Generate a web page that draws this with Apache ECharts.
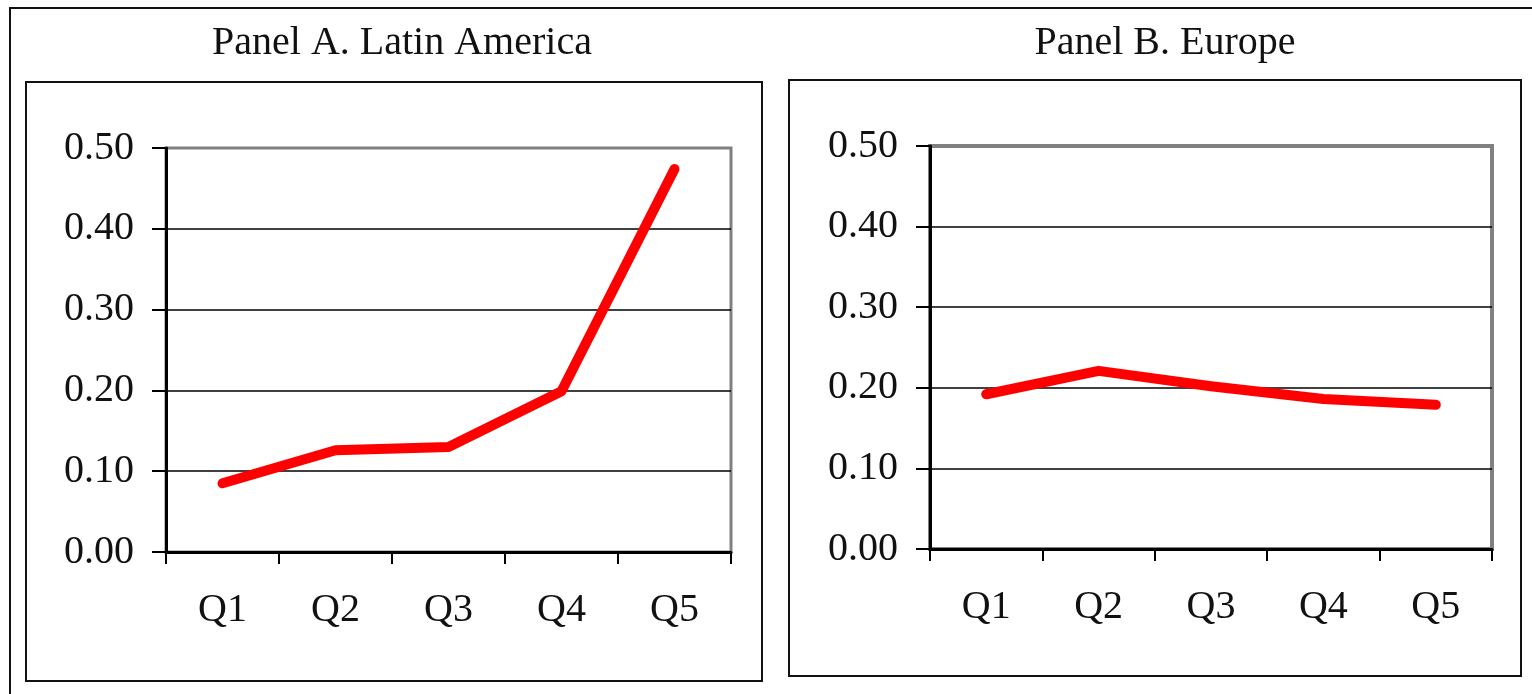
<!DOCTYPE html>
<html>
<head>
<meta charset="utf-8">
<script src="https://cdn.jsdelivr.net/npm/echarts@6/dist/echarts.min.js"></script>
<style>
html,body{margin:0;padding:0;background:#fff;}
#c{width:1532px;height:694px;}
</style>
</head>
<body>
<div id="c"></div>
<script>
const categories = ['Q1', 'Q2', 'Q3', 'Q4', 'Q5'];
const latinAmerica = [0.085, 0.126, 0.130, 0.199, 0.474];
const europe = [0.192, 0.221, 0.202, 0.186, 0.179];
const yTicks = [0.00, 0.10, 0.20, 0.30, 0.40, 0.50];
const panelTitles = ['Panel A. Latin America', 'Panel B. Europe'];

const FONT = '"Liberation Serif", "Times New Roman", serif';
const chart = echarts.init(document.getElementById('c'), null, {renderer: 'canvas'});

function xAxis(gi) {
  return {
    type: 'category', gridIndex: gi, data: categories, boundaryGap: true,
    axisLine: {show: true, lineStyle: {color: '#000', width: 3}},
    axisTick: {show: true, alignWithLabel: false, length: 12, lineStyle: {color: '#000', width: 2}},
    axisLabel: {color: '#111', fontFamily: FONT, fontSize: 40, margin: 38},
    splitLine: {show: false}
  };
}
function yAxis(gi) {
  return {
    type: 'value', gridIndex: gi, min: yTicks[0], max: yTicks[yTicks.length - 1], interval: 0.1,
    axisLine: {show: true, lineStyle: {color: '#000', width: 3}},
    axisTick: {show: true, length: 14, lineStyle: {color: '#000', width: 2}},
    axisLabel: {color: '#111', fontFamily: FONT, fontSize: 40, margin: 32,
      formatter: v => v.toFixed(2)},
    splitLine: {show: true, showMaxLine: false, showMinLine: false, lineStyle: {color: '#000', width: 1.5}}
  };
}
function lineSeries(gi, data) {
  return {
    type: 'line', xAxisIndex: gi, yAxisIndex: gi, data: data,
    symbol: 'none', smooth: false, silent: true,
    lineStyle: {color: '#ff0000', width: 10, cap: 'round', join: 'round'},
    z: 5
  };
}

chart.setOption({
  animation: false,
  backgroundColor: '#fff',
  title: [
    {text: panelTitles[0], left: 397, top: 18, textAlign: 'center',
      textStyle: {fontFamily: FONT, fontSize: 40, fontWeight: 'normal', color: '#111'}},
    {text: panelTitles[1], left: 1160, top: 18, textAlign: 'center',
      textStyle: {fontFamily: FONT, fontSize: 40, fontWeight: 'normal', color: '#111'}}
  ],
  graphic: [
    {type: 'rect', shape: {x: 10, y: 8, width: 1600, height: 800},
      style: {fill: 'none', stroke: '#111', lineWidth: 2}, silent: true, z: 0},
    {type: 'rect', shape: {x: 26, y: 82, width: 736, height: 599},
      style: {fill: 'none', stroke: '#111', lineWidth: 2}, silent: true, z: 0},
    {type: 'rect', shape: {x: 789, y: 80, width: 732, height: 596},
      style: {fill: 'none', stroke: '#111', lineWidth: 2}, silent: true, z: 0}
  ],
  grid: [
    {left: 166, top: 148, width: 565, height: 404, show: true,
      borderColor: '#808080', borderWidth: 3, backgroundColor: 'transparent', containLabel: false},
    {left: 930, top: 146, width: 562, height: 403, show: true,
      borderColor: '#808080', borderWidth: 4, backgroundColor: 'transparent', containLabel: false}
  ],
  xAxis: [xAxis(0), xAxis(1)],
  yAxis: [yAxis(0), yAxis(1)],
  series: [lineSeries(0, latinAmerica), lineSeries(1, europe)]
});
</script>
</body>
</html>
